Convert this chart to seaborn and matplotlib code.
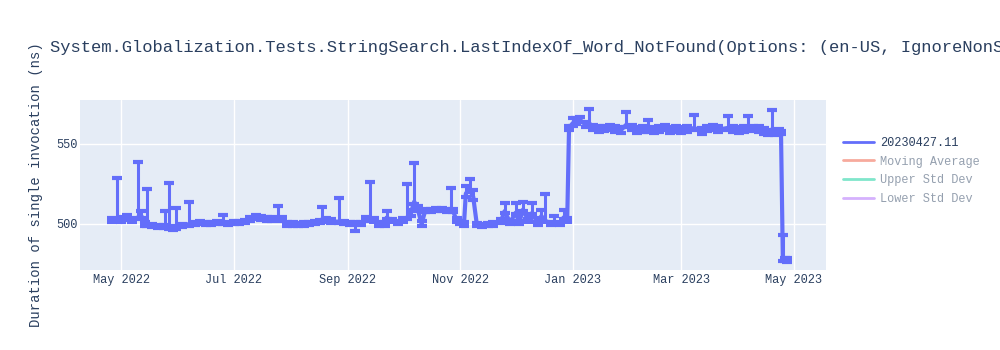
import matplotlib
matplotlib.use("Agg")
import matplotlib.pyplot as plt
import matplotlib.dates as mdates
from matplotlib.lines import Line2D
import pandas as pd
import seaborn as sns

TITLE = "System.Globalization.Tests.StringSearch.LastIndexOf_Word_NotFound(Options: (en-US, IgnoreNonSpace))"
Y_LABEL = "Duration of single invocation (ns)"
LEGEND_LABELS = ["20230427.11", "Moving Average", "Upper Std Dev", "Lower Std Dev"]
Y_TICKS = [500, 550]

dates = [
    "2022-04-26", "2022-04-29", "2022-05-01", "2022-05-04", "2022-05-07", "2022-05-10",
    "2022-05-12", "2022-05-14", "2022-05-15", "2022-05-18", "2022-05-21", "2022-05-24",
    "2022-05-25", "2022-05-27", "2022-05-29", "2022-05-31", "2022-06-03", "2022-06-07",
    "2022-06-10", "2022-06-13", "2022-06-16", "2022-06-19", "2022-06-22", "2022-06-25",
    "2022-06-28", "2022-07-01", "2022-07-04", "2022-07-07", "2022-07-10", "2022-07-13",
    "2022-07-16", "2022-07-19", "2022-07-22", "2022-07-25", "2022-07-27", "2022-07-30",
    "2022-08-02", "2022-08-05", "2022-08-08", "2022-08-11", "2022-08-14", "2022-08-17",
    "2022-08-18", "2022-08-20", "2022-08-23", "2022-08-27", "2022-08-30", "2022-09-02",
    "2022-09-05", "2022-09-08", "2022-09-11", "2022-09-13", "2022-09-15", "2022-09-18",
    "2022-09-21", "2022-09-22", "2022-09-25", "2022-09-28", "2022-10-01", "2022-10-03",
    "2022-10-05", "2022-10-07", "2022-10-09", "2022-10-11", "2022-10-13", "2022-10-16",
    "2022-10-19", "2022-10-22", "2022-10-25", "2022-10-27", "2022-10-28", "2022-10-30",
    "2022-11-01", "2022-11-03", "2022-11-04", "2022-11-06", "2022-11-08", "2022-11-10",
    "2022-11-13", "2022-11-16", "2022-11-19", "2022-11-23", "2022-11-25", "2022-11-28",
    "2022-12-01", "2022-12-03", "2022-12-05", "2022-12-08", "2022-12-10", "2022-12-13",
    "2022-12-15", "2022-12-17", "2022-12-20", "2022-12-22", "2022-12-25", "2022-12-27",
    "2022-12-29", "2022-12-30", "2023-01-01", "2023-01-03", "2023-01-05", "2023-01-08",
    "2023-01-10", "2023-01-12", "2023-01-15", "2023-01-18", "2023-01-21", "2023-01-24",
    "2023-01-27", "2023-01-30", "2023-02-02", "2023-02-05", "2023-02-08", "2023-02-11",
    "2023-02-14", "2023-02-17", "2023-02-20", "2023-02-23", "2023-02-26", "2023-03-01",
    "2023-03-04", "2023-03-08", "2023-03-12", "2023-03-15", "2023-03-18", "2023-03-21",
    "2023-03-26", "2023-03-29", "2023-04-01", "2023-04-04", "2023-04-06", "2023-04-09",
    "2023-04-12", "2023-04-15", "2023-04-17", "2023-04-19", "2023-04-21", "2023-04-23",
    "2023-04-24", "2023-04-25", "2023-04-26", "2023-04-27",
]

values = [
    502.0, 503.0, 502.5, 503.5, 502.5, 504.0,
    505.0, 499.5, 500.0, 499.0, 498.5, 498.5,
    499.0, 498.0, 497.5, 498.0, 499.0, 500.0,
    500.5, 501.0, 500.5, 500.5, 501.0, 501.0,
    500.5, 501.0, 501.0, 501.5, 503.0, 504.0,
    503.5, 503.0, 503.0, 504.0, 503.0, 500.0,
    500.0, 499.5, 500.0, 500.5, 501.0, 501.5,
    503.0, 502.0, 501.5, 501.5, 501.0, 500.5,
    500.0, 500.5, 503.0, 504.0, 502.0, 500.0,
    500.0, 504.0, 502.0, 501.0, 502.0, 504.0,
    506.0, 514.0, 509.0, 500.0, 508.5, 508.5,
    509.0, 509.0, 508.5, 509.0, 508.5, 502.0,
    501.0, 500.0, 519.0, 522.0, 517.0, 499.5,
    499.0, 499.5, 500.0, 501.5, 508.0, 501.0,
    507.0, 501.0, 509.0, 502.0, 507.0, 500.5,
    505.0, 502.0, 500.5, 501.0, 500.5, 504.0,
    502.0, 560.0, 563.0, 564.0, 565.0, 562.0,
    563.0, 560.0, 559.0, 559.5, 560.0, 559.0,
    558.5, 562.0, 560.0, 558.5, 559.0, 559.0,
    558.5, 559.0, 560.0, 558.5, 559.0, 558.5,
    559.0, 560.0, 558.0, 559.5, 560.0, 559.0,
    560.0, 559.0, 558.5, 559.0, 560.0, 559.5,
    559.0, 558.0, 557.0, 559.0, 557.0, 557.5,
    557.0, 478.0, 478.0, 477.5,
]

errors_up = [
    1.5, 26.0, 2.0, 2.0, 1.5, 35.0,
    3.0, 1.5, 22.0, 1.0, 1.0, 1.0,
    9.0, 27.5, 1.0, 12.0, 1.0, 14.0,
    1.0, 1.0, 1.0, 1.0, 1.0, 4.5,
    1.0, 1.0, 1.0, 1.0, 1.5, 1.5,
    1.5, 1.5, 1.5, 7.0, 1.5, 1.0,
    1.0, 1.0, 1.0, 1.0, 1.0, 1.0,
    7.5, 1.5, 1.5, 14.5, 1.0, 1.0,
    1.0, 1.0, 1.5, 22.0, 1.5, 1.0,
    1.0, 4.0, 1.0, 1.0, 1.5, 21.0,
    3.0, 24.0, 2.0, 2.0, 1.0, 1.0,
    1.0, 1.0, 1.0, 13.5, 1.0, 1.5,
    1.0, 1.0, 5.0, 6.0, 4.0, 1.0,
    1.0, 1.0, 1.0, 1.5, 5.0, 1.0,
    6.0, 1.0, 5.0, 1.0, 6.0, 1.0,
    4.0, 17.0, 1.0, 4.0, 1.0, 5.0,
    1.5, 1.5, 3.0, 2.0, 2.0, 2.0,
    9.0, 2.0, 2.0, 2.0, 2.0, 2.0,
    2.0, 8.0, 2.0, 2.0, 2.0, 6.0,
    2.0, 2.0, 2.0, 2.0, 2.0, 2.0,
    2.0, 8.0, 2.0, 2.0, 2.0, 2.0,
    7.5, 2.0, 2.0, 2.0, 7.5, 2.0,
    2.0, 2.0, 2.0, 12.0, 2.0, 2.0,
    1.0, 15.0, 1.0, 1.0,
]

errors_down = [
    1.0, 1.0, 1.0, 1.0, 1.0, 1.0,
    1.5, 1.0, 1.0, 1.0, 1.0, 1.0,
    1.0, 1.0, 1.0, 1.0, 1.0, 1.0,
    1.0, 1.0, 1.0, 1.0, 1.0, 1.0,
    1.0, 1.0, 1.0, 1.0, 1.0, 1.0,
    1.0, 1.0, 1.0, 1.0, 1.0, 1.0,
    1.0, 1.0, 1.0, 1.0, 1.0, 1.0,
    1.0, 1.0, 1.0, 1.0, 1.0, 1.0,
    4.5, 1.0, 1.0, 1.0, 1.0, 1.0,
    1.0, 1.0, 1.0, 1.0, 1.0, 1.0,
    1.0, 1.5, 1.0, 1.0, 1.0, 1.0,
    1.0, 1.0, 1.0, 1.0, 1.0, 1.0,
    1.0, 1.0, 2.0, 2.0, 2.0, 1.0,
    1.0, 1.0, 1.0, 1.0, 1.0, 1.0,
    1.0, 1.0, 1.0, 1.0, 1.0, 1.0,
    1.0, 1.0, 1.0, 1.0, 1.0, 1.0,
    1.0, 1.0, 1.5, 1.5, 1.5, 1.5,
    1.5, 1.5, 1.5, 1.5, 1.5, 1.5,
    1.5, 1.5, 1.5, 1.5, 1.5, 1.5,
    1.5, 1.5, 1.5, 1.5, 1.5, 1.5,
    1.5, 1.5, 1.5, 1.5, 1.5, 1.5,
    1.5, 1.5, 1.5, 1.5, 1.5, 1.5,
    1.5, 1.5, 1.5, 1.5, 1.5, 1.5,
    1.0, 1.0, 1.0, 1.0,
]

df = pd.DataFrame({"date": pd.to_datetime(dates), "value": values,
                   "up": errors_up, "down": errors_down})
df = df.sort_values("date")

sns.set_theme(style="darkgrid")
plt.rcParams["font.family"] = ["Liberation Mono", "DejaVu Sans Mono"]

TEXT = "#2a3f5f"
BLUE = "#636efa"

fig = plt.figure(figsize=(10, 3.5), dpi=100)
ax = fig.add_axes([0.080, 0.2286, 0.746, 0.4857])
ax.set_facecolor("#e5ecf6")

ax.errorbar(df["date"], df["value"], yerr=[df["down"], df["up"]], fmt="none", ecolor=BLUE,
            elinewidth=2.2, capsize=3.5, capthick=3, zorder=3)
sns.lineplot(data=df, x="date", y="value", ax=ax, color=BLUE, linewidth=3,
             estimator=None, zorder=4, legend=False)

ax.set_xlim(pd.Timestamp("2022-04-08 16:00"), pd.Timestamp("2023-05-18 10:00"))
ax.set_ylim(471.25, 577.5)
ax.set_yticks(Y_TICKS)
ax.xaxis.set_major_locator(mdates.MonthLocator(bymonth=[1, 3, 5, 7, 9, 11]))
ax.xaxis.set_major_formatter(mdates.DateFormatter("%b %Y"))

ax.grid(True, color="white", linewidth=1)
for s in ax.spines.values():
    s.set_visible(False)
ax.tick_params(axis="both", length=0, labelsize=8.6, labelcolor=TEXT)
ax.tick_params(axis="x", pad=3)
ax.tick_params(axis="y", pad=2)
ax.set_xlabel("")
ax.set_ylabel(Y_LABEL, fontsize=10, color=TEXT, labelpad=9)

fig.text(0.050, 0.865, TITLE, fontsize=12.3, color=TEXT, ha="left", va="center")

handles = [
    Line2D([0], [0], color=BLUE, lw=2),
    Line2D([0], [0], color="#f7aa9d", lw=2),
    Line2D([0], [0], color="#80e6cb", lw=2),
    Line2D([0], [0], color="#d5b1fd", lw=2),
]
leg = fig.legend(handles, LEGEND_LABELS, loc="upper left", bbox_to_anchor=(0.838, 0.622),
                 frameon=False, fontsize=8.6, handlelength=2.6, handletextpad=0.5,
                 labelspacing=0.55, borderaxespad=0)
for i, t in enumerate(leg.get_texts()):
    t.set_color(TEXT if i == 0 else "#95a0af")

fig.savefig("out.png", dpi=100)
